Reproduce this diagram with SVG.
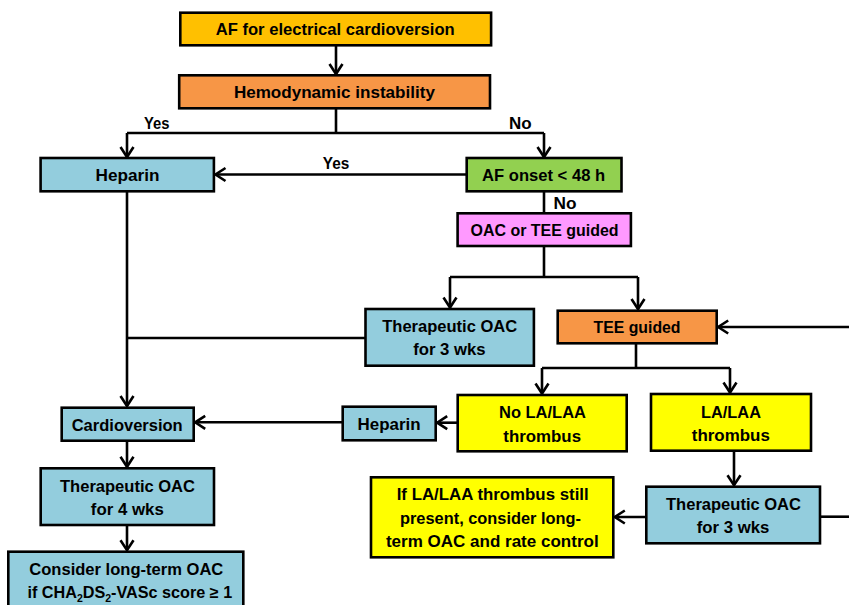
<svg xmlns="http://www.w3.org/2000/svg" width="849" height="605" viewBox="0 0 849 605">
  <style>
    .box { stroke: #000; stroke-width: 2.6; }
    .gold { fill: #FFC000; }
    .orange { fill: #F79646; }
    .blue { fill: #93CDDD; }
    .green { fill: #92D050; }
    .pink { fill: #FF99FF; }
    .yellow { fill: #FFFF00; }
    text { font-family: "Liberation Sans", Arial, sans-serif; font-weight: bold; font-size: 17px; fill: #000; text-anchor: middle; }
    .score { font-size: 16.2px; }
    .sub { font-size: 10.5px; }
    .wire { fill: none; stroke: #000; stroke-width: 2.6; }
  </style>
  <defs>
    <marker id="arrow" markerUnits="userSpaceOnUse" markerWidth="16" markerHeight="18" viewBox="-12 -9 14 18" refX="0" refY="0" orient="auto">
      <path d="M-10,-6.5 L0,0 L-10,6.5" fill="none" stroke="#000" stroke-width="2.6"/>
    </marker>
  </defs>
  <rect width="849" height="605" fill="#fff"/>

  <g id="connectors">
    <path class="wire" d="M336,45.3 V74" marker-end="url(#arrow)"/>
    <path class="wire" d="M336,108.3 V133"/>
    <path class="wire" d="M127,133 H544"/>
    <path class="wire" d="M127,133 V157" marker-end="url(#arrow)"/>
    <path class="wire" d="M544,133 V157" marker-end="url(#arrow)"/>
    <path class="wire" d="M466.7,174.5 H215.5" marker-end="url(#arrow)"/>
    <path class="wire" d="M544,191.3 V213.3"/>
    <path class="wire" d="M544,246 V277 M450,277 H638"/>
    <path class="wire" d="M450,277 V307.5" marker-end="url(#arrow)"/>
    <path class="wire" d="M638,277 V309" marker-end="url(#arrow)"/>
    <path class="wire" d="M127,191.3 V406" marker-end="url(#arrow)"/>
    <path class="wire" d="M127,338 H365.5"/>
    <path class="wire" d="M849,327 H718.2" marker-end="url(#arrow)"/>
    <path class="wire" d="M636,343.3 V368 M542,368 H730"/>
    <path class="wire" d="M542,368 V393.5" marker-end="url(#arrow)"/>
    <path class="wire" d="M730,368 V392.5" marker-end="url(#arrow)"/>
    <path class="wire" d="M457.7,422.7 H437.2" marker-end="url(#arrow)"/>
    <path class="wire" d="M342.7,422.3 H195.2" marker-end="url(#arrow)"/>
    <path class="wire" d="M127,440.7 V466.8" marker-end="url(#arrow)"/>
    <path class="wire" d="M127,525 V550.2" marker-end="url(#arrow)"/>
    <path class="wire" d="M734,450.7 V485.2" marker-end="url(#arrow)"/>
    <path class="wire" d="M646.3,517 H614.8" marker-end="url(#arrow)"/>
    <path class="wire" d="M820,516.7 H849"/>
    <text x="156.8" y="129" textLength="25.5" lengthAdjust="spacingAndGlyphs">Yes</text>
    <text x="520.4" y="128.5" textLength="22.7" lengthAdjust="spacingAndGlyphs">No</text>
    <text x="336" y="168.5" textLength="26.5" lengthAdjust="spacingAndGlyphs">Yes</text>
    <text x="565" y="208.5" textLength="23" lengthAdjust="spacingAndGlyphs">No</text>
  </g>

  <g id="af-electrical-cardioversion">
    <rect class="box gold" x="180.3" y="12.7" width="310.8" height="32.6"/>
    <text x="335.2" y="35.3" textLength="239" lengthAdjust="spacingAndGlyphs">AF for electrical cardioversion</text>
  </g>

  <g id="hemodynamic-instability">
    <rect class="box orange" x="179.2" y="75.3" width="310.8" height="33"/>
    <text x="334.4" y="98" textLength="201" lengthAdjust="spacingAndGlyphs">Hemodynamic instability</text>
  </g>

  <g id="heparin-top">
    <rect class="box blue" x="40.6" y="158" width="173.3" height="33.3"/>
    <text x="127.5" y="181" textLength="64" lengthAdjust="spacingAndGlyphs">Heparin</text>
  </g>

  <g id="af-onset">
    <rect class="box green" x="466.7" y="158" width="154.8" height="33.3"/>
    <text x="543.6" y="181" textLength="123" lengthAdjust="spacingAndGlyphs">AF onset &lt; 48 h</text>
  </g>

  <g id="oac-or-tee">
    <rect class="box pink" x="457.6" y="213.3" width="173.3" height="32.7"/>
    <text x="544.6" y="236" textLength="148" lengthAdjust="spacingAndGlyphs">OAC or TEE guided</text>
  </g>

  <g id="therapeutic-oac-3wks-left">
    <rect class="box blue" x="365.5" y="309" width="168.4" height="56.7"/>
    <text x="449.7" y="331.7" textLength="135" lengthAdjust="spacingAndGlyphs">Therapeutic OAC</text>
    <text x="449.4" y="355" textLength="72.5" lengthAdjust="spacingAndGlyphs">for 3 wks</text>
  </g>

  <g id="tee-guided">
    <rect class="box orange" x="557.7" y="310.7" width="159" height="32.6"/>
    <text x="637" y="333" textLength="87" lengthAdjust="spacingAndGlyphs">TEE guided</text>
  </g>

  <g id="cardioversion">
    <rect class="box blue" x="61.7" y="407.7" width="132" height="33"/>
    <text x="127.2" y="430.5" textLength="111" lengthAdjust="spacingAndGlyphs">Cardioversion</text>
  </g>

  <g id="heparin-mid">
    <rect class="box blue" x="342.7" y="406.7" width="93" height="33.6"/>
    <text x="389" y="430" textLength="63" lengthAdjust="spacingAndGlyphs">Heparin</text>
  </g>

  <g id="no-thrombus">
    <rect class="box yellow" x="457.7" y="395" width="169" height="56.3"/>
    <text x="542.5" y="418.3" textLength="87" lengthAdjust="spacingAndGlyphs">No LA/LAA</text>
    <text x="542.2" y="441.7" textLength="77.7" lengthAdjust="spacingAndGlyphs">thrombus</text>
  </g>

  <g id="thrombus">
    <rect class="box yellow" x="651" y="394" width="160" height="56.7"/>
    <text x="731" y="417.5" textLength="60" lengthAdjust="spacingAndGlyphs">LA/LAA</text>
    <text x="730.8" y="441" textLength="78" lengthAdjust="spacingAndGlyphs">thrombus</text>
  </g>

  <g id="therapeutic-oac-4wks">
    <rect class="box blue" x="40.7" y="468.3" width="173.3" height="56.7"/>
    <text x="127.5" y="491.5" textLength="135" lengthAdjust="spacingAndGlyphs">Therapeutic OAC</text>
    <text x="127.3" y="515" textLength="73" lengthAdjust="spacingAndGlyphs">for 4 wks</text>
  </g>

  <g id="long-term-oac">
    <rect class="box blue" x="8.3" y="551.7" width="235" height="65"/>
    <text x="126.3" y="575" textLength="194" lengthAdjust="spacingAndGlyphs">Consider long-term OAC</text>
    <text class="score" x="129.8" y="598.3">if CHA<tspan class="sub" dy="4">2</tspan><tspan dy="-4">DS</tspan><tspan class="sub" dy="4">2</tspan><tspan dy="-4">-VASc score ≥ 1</tspan></text>
  </g>

  <g id="thrombus-still-present">
    <rect class="box yellow" x="371" y="477.3" width="242.3" height="80"/>
    <text x="492.7" y="500" textLength="192" lengthAdjust="spacingAndGlyphs">If LA/LAA thrombus still</text>
    <text x="490.5" y="524" textLength="181" lengthAdjust="spacingAndGlyphs">present, consider long-</text>
    <text x="492.3" y="547.3" textLength="212.7" lengthAdjust="spacingAndGlyphs">term OAC and rate control</text>
  </g>

  <g id="therapeutic-oac-3wks-right">
    <rect class="box blue" x="646.3" y="486.7" width="173.7" height="56.6"/>
    <text x="733.5" y="510" textLength="135" lengthAdjust="spacingAndGlyphs">Therapeutic OAC</text>
    <text x="733" y="533.3" textLength="72.7" lengthAdjust="spacingAndGlyphs">for 3 wks</text>
  </g>
</svg>
